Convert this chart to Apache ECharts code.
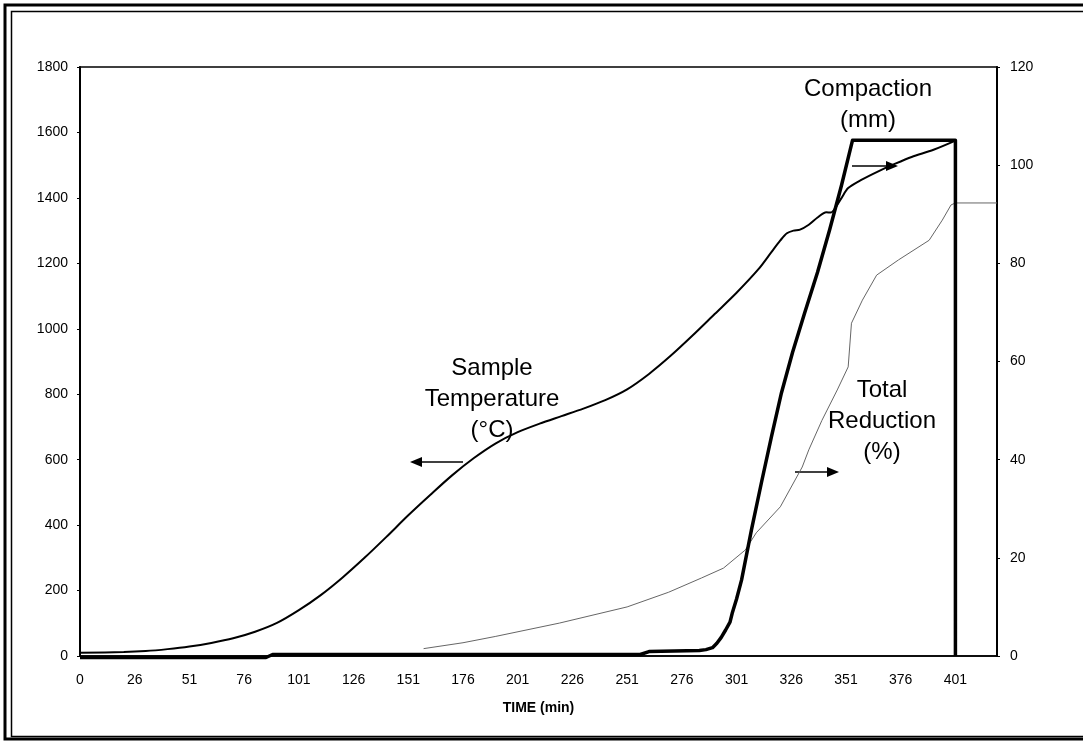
<!DOCTYPE html>
<html>
<head>
<meta charset="utf-8">
<script src="https://cdn.jsdelivr.net/npm/echarts@6/dist/echarts.min.js"></script>
<style>
  html, body { margin: 0; padding: 0; background: #fff; }
  #chart { width: 1083px; height: 741px; }
</style>
</head>
<body>
<div id="chart"></div>
<script>
// Tick labels shown under the time axis (one every 25 steps)
const xTickLabels = ['0','26','51','76','101','126','151','176','201','226','251','276','301','326','351','376','401'];

// Sample temperature (°C), left axis
const tempTime = [0, 20, 30, 40, 50, 60, 70, 80, 90, 100, 110, 120, 130, 140, 150, 160, 170, 180, 190, 200, 210, 220, 230, 240, 250, 260, 270, 280, 290, 300, 310, 316, 320, 323, 326, 329, 333, 337, 341, 343, 345, 348, 351, 357, 365, 372, 380, 390, 400];
const tempC    = [10, 12, 15, 21, 29, 40, 54, 74, 101, 140, 186, 240, 300, 364, 430, 492, 552, 605, 650, 684, 710, 733, 756, 782, 815, 862, 918, 980, 1045, 1110, 1182, 1235, 1270, 1292, 1300, 1303, 1318, 1340, 1356, 1355, 1368, 1400, 1430, 1455, 1482, 1503, 1525, 1547, 1575];

// Compaction (mm), right axis
const compTime = [0, 85, 88, 256, 260, 283, 286, 289, 291, 293, 295, 297, 298, 300, 302.3, 306.8, 311.4, 316, 320.5, 325.6, 331.1, 337, 342.5, 347.9, 353, 400, 400];
const compMm   = [-0.3, -0.3, 0.3, 0.3, 0.9, 1.1, 1.3, 1.7, 2.6, 3.8, 5.3, 6.9, 8.7, 11.6, 15.5, 25.7, 35.4, 44.8, 53.6, 61.9, 69.9, 78.2, 86.8, 95.8, 105.1, 105.1, 0];

// Total reduction (%), right axis
const redTime = [157, 175, 190, 219, 250, 269, 284, 294, 304, 309, 320, 330, 333, 339, 346, 351, 352.5, 357.5, 364, 374, 388, 394, 398, 400, 419];
const redPct  = [1.5, 2.7, 4.0, 6.7, 10.0, 13.0, 15.9, 17.9, 21.6, 25.1, 30.4, 38.5, 42.0, 48.0, 54.2, 58.9, 67.8, 72.5, 77.6, 80.7, 84.7, 88.8, 91.9, 92.3, 92.3];

const pairs = (xs, ys) => xs.map((x, i) => [x, ys[i]]);
const FONT = '"Liberation Sans", Arial, sans-serif';

const chart = echarts.init(document.getElementById('chart'), null, { renderer: 'canvas' });

function arrow(x1, x2, y) {
  // horizontal arrow from x1 to x2, head at x2
  const dir = x2 > x1 ? 1 : -1;
  const headLen = 12, headHalf = 5;
  return [
    { type: 'line', shape: { x1: x1, y1: y, x2: x2 - dir * headLen * 0.8, y2: y }, style: { stroke: '#000', lineWidth: 1.5 } },
    { type: 'polygon', shape: { points: [[x2, y], [x2 - dir * headLen, y - headHalf], [x2 - dir * headLen, y + headHalf]] }, style: { fill: '#000' } }
  ];
}

const note = (x, y, text) => ({
  type: 'text', x: x, y: y,
  style: { text: text, fill: '#000', font: '24px ' + FONT, textAlign: 'center', textVerticalAlign: 'top', lineHeight: 31 }
});

const option = {
  animation: false,
  backgroundColor: '#fff',
  grid: { left: 80, right: 86, top: 67, bottom: 85, show: true, borderColor: '#000', borderWidth: 1.5, backgroundColor: 'transparent' },
  xAxis: {
    type: 'value', min: 0, max: 419, interval: 25,
    name: 'TIME (min)', nameLocation: 'middle', nameGap: 45,
    nameTextStyle: { color: '#000', fontFamily: FONT, fontWeight: 'bold', fontSize: 14 },
    axisLine: { show: true, lineStyle: { color: '#000', width: 1.5 } },
    axisTick: { show: false },
    splitLine: { show: false },
    axisLabel: {
      color: '#000', fontFamily: FONT, fontSize: 14, margin: 17, showMaxLabel: false,
      formatter: v => (v % 25 === 0 && xTickLabels[v / 25] !== undefined) ? xTickLabels[v / 25] : ''
    }
  },
  yAxis: [
    {
      type: 'value', min: 0, max: 1800, interval: 200, position: 'left',
      axisLine: { show: true, lineStyle: { color: '#000', width: 2 } },
      axisTick: { show: true, length: 3, lineStyle: { color: '#000' } },
      splitLine: { show: false },
      axisLabel: { color: '#000', fontFamily: FONT, fontSize: 14, margin: 12, formatter: v => String(v) }
    },
    {
      type: 'value', min: 0, max: 120, interval: 20, position: 'right',
      axisLine: { show: true, lineStyle: { color: '#000', width: 2 } },
      axisTick: { show: true, length: 3, lineStyle: { color: '#000' } },
      splitLine: { show: false },
      axisLabel: { color: '#000', fontFamily: FONT, fontSize: 14, margin: 13, formatter: v => String(v) }
    }
  ],
  series: [
    {
      name: 'Total Reduction', type: 'line', yAxisIndex: 1, showSymbol: false,
      data: pairs(redTime, redPct),
      lineStyle: { color: '#666', width: 1 }
    },
    {
      name: 'Sample Temperature', type: 'line', yAxisIndex: 0, showSymbol: false, smooth: 0.3,
      data: pairs(tempTime, tempC),
      lineStyle: { color: '#000', width: 2 }
    },
    {
      name: 'Compaction', type: 'line', yAxisIndex: 1, showSymbol: false, clip: false,
      data: pairs(compTime, compMm),
      lineStyle: { color: '#000', width: 3.5, join: 'round' }
    }
  ],
  graphic: [
    // double frame round the figure
    { type: 'rect', shape: { x: 5, y: 5, width: 1090, height: 734 }, style: { fill: 'none', stroke: '#000', lineWidth: 3 } },
    { type: 'rect', shape: { x: 11.5, y: 11.5, width: 1080, height: 725 }, style: { fill: 'none', stroke: '#000', lineWidth: 1.5 } },
    note(492, 353, 'Sample\nTemperature\n(°C)'),
    note(868, 74, 'Compaction\n(mm)'),
    note(882, 375, 'Total\nReduction\n(%)'),
    ...arrow(463, 410, 462),
    ...arrow(852, 898, 166),
    ...arrow(795, 839, 472)
  ]
};

chart.setOption(option);
</script>
</body>
</html>
